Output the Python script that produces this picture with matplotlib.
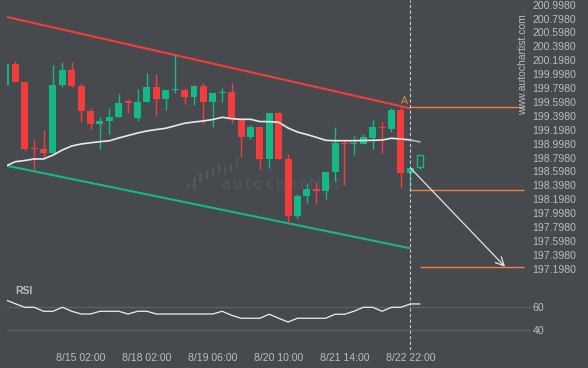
import matplotlib
matplotlib.use("Agg")
import matplotlib.pyplot as plt
from matplotlib.patches import Rectangle

plt.rcParams['font.family'] = ['Liberation Sans', 'DejaVu Sans']

# colores
BG = "#46494e"
UP = "#14b985"
DOWN = "#f43c3c"
ORANGE = "#f0803c"
TXT = "#b9bcc0"
WM = "#53575d"

# velas (indice 0..43)
opens = [199.843, 200.145, 199.886, 198.935, 198.922, 198.869, 199.843, 200.058, 199.828, 199.469,
         199.286, 199.325, 199.382, 199.600, 199.372, 199.598, 199.814, 199.641, 199.781, 199.771,
         199.666, 199.828, 199.602, 199.736, 199.738, 199.349, 199.099, 199.234, 198.774, 199.440,
         198.774, 197.962, 198.250, 198.334, 198.322, 198.591, 199.006, 199.002, 198.998, 199.084,
         199.236, 199.205, 199.483, 198.581]
highs = [200.160, 200.184, 199.886, 199.051, 199.195, 200.130, 200.169, 200.169, 199.867, 199.507,
         199.386, 199.507, 199.713, 199.637, 199.781, 200.011, 200.001, 199.771, 200.274, 199.795,
         199.843, 199.876, 199.732, 199.804, 199.867, 199.349, 199.267, 199.234, 199.440, 199.458,
         198.850, 198.270, 198.428, 198.451, 198.591, 199.234, 199.051, 199.109, 199.138, 199.339,
         199.315, 199.507, 199.530, 198.648]
lows = [199.843, 199.886, 198.893, 198.620, 198.807, 198.869, 199.818, 199.810, 199.306, 199.205,
        198.917, 199.133, 199.382, 199.435, 199.320, 199.598, 199.397, 199.483, 199.723, 199.569,
        199.555, 199.277, 199.243, 199.594, 199.292, 198.811, 199.061, 198.630, 198.653, 198.774,
        197.861, 197.925, 198.140, 198.126, 198.198, 198.461, 198.408, 198.835, 198.998, 198.917,
        198.860, 199.171, 198.356, 198.332]
closes = [200.145, 199.886, 198.922, 198.930, 198.869, 199.843, 200.058, 199.833, 199.473, 199.286,
          199.325, 199.378, 199.584, 199.598, 199.598, 199.814, 199.641, 199.771, 199.783, 199.674,
          199.828, 199.602, 199.732, 199.738, 199.349, 199.099, 199.234, 198.774, 199.440, 198.774,
          197.962, 198.241, 198.346, 198.332, 198.591, 199.008, 199.004, 199.004, 199.090, 199.234,
          199.234, 199.483, 198.581, 198.648]

# vela prevista (hueca)
next_open, next_close, next_low = 198.658, 198.835, 198.630

# media movil y RSI (indice 0..44)
ma = [198.677, 198.739, 198.756, 198.778, 198.778, 198.833, 198.907, 198.965, 198.994, 199.011,
      199.027, 199.040, 199.080, 199.116, 199.152, 199.181, 199.202, 199.220, 199.256, 199.292,
      199.310, 199.325, 199.346, 199.378, 199.358, 199.349, 199.349, 199.317, 199.315, 199.306,
      199.224, 199.166, 199.130, 199.090, 199.047, 199.041, 199.041, 199.041, 199.044, 199.047,
      199.051, 199.076, 199.066, 199.051, 199.025]
rsi = [65.7, 62.5, 59.5, 59.5, 56.1, 56.1, 59.5, 56.1, 53.8, 53.8,
       56.1, 56.1, 56.1, 53.8, 56.1, 56.1, 53.8, 53.8, 53.8, 53.8,
       53.8, 53.8, 53.8, 56.1, 52.7, 50.2, 50.2, 50.2, 53.6, 50.2,
       47.0, 50.2, 50.2, 50.2, 50.2, 53.6, 53.6, 56.1, 59.5, 59.5,
       56.1, 59.5, 59.5, 62.3, 62.3]

# canal
resist_x = [0, 43]
resist_y = [200.825, 199.507]
support_x = [0, 43]
support_y = [198.684, 197.493]

# niveles
level_a = 199.530
level_entry = 198.332
level_target = 197.220
arrow_start = (43.04, 198.645)
arrow_end = (53.07, 197.228)
right_end = 55.09

price_labels = ["200.9980", "200.7980", "200.5980", "200.3980", "200.1980", "199.9980", "199.7980",
                "199.5980", "199.3980", "199.1980", "198.9980", "198.7980", "198.5980", "198.3980",
                "198.1980", "197.9980", "197.7980", "197.5980", "197.3980", "197.1980"]
price_ticks = [float(s) for s in price_labels]
date_idx = [8, 15, 22, 29, 36, 43]
date_labels = ["8/15 02:00", "8/18 02:00", "8/19 06:00", "8/20 10:00", "8/21 14:00", "8/22 22:00"]

W, H = 588, 368
fig = plt.figure(figsize=(W / 100, H / 100), dpi=100, facecolor=BG)


def fpos(x, y):
    return x / W, 1 - y / H


ax = fig.add_axes([7 / W, 1 - 280 / H, 524 / W, 280 / H], facecolor=BG)
rax = fig.add_axes([7 / W, 1 - 350 / H, 524 / W, 70 / H], facecolor=BG)

xlim = (0.117, 55.833)
ax.set_xlim(*xlim)
ax.set_ylim(197.0368, 201.0656)
rax.set_xlim(*xlim)
rax.set_ylim(23.3, 82.6)

for a in (ax, rax):
    for s in a.spines.values():
        s.set_visible(False)

# marca de agua
bars = [(187.3, 183.3, 188.3), (193.3, 177.3, 189), (199.3, 173.3, 181.7), (205.7, 170.7, 179.3),
        (211.7, 168.3, 175.7), (217.7, 164, 173.3), (223.7, 166, 174.3), (229.7, 164, 171.7),
        (235.7, 158.3, 166)]
for bx, top, bot in bars:
    x0, y0 = fpos(bx, bot)
    ax.add_patch(Rectangle((x0, y0), 2.7 / W, (bot - top) / H, transform=fig.transFigure,
                           facecolor=WM, edgecolor="none", zorder=0.5))
em = {'a': .613, 'u': .634, 't': .392, 'o': .612, 'c': .55, 'h': .634, 'r': .411, 'i': .278, 's': .521}
cx = 220.7
for ch in "autochartist":
    x0, y0 = fpos(cx, 189.3)
    ax.text(x0, y0, ch, transform=fig.transFigure, fontsize=10.5, color=WM,
            family="DejaVu Sans", ha="left", va="baseline", zorder=0.5)
    cx += em[ch] * 14.6 + 2.8

# canal
ax.plot(resist_x, resist_y, color=DOWN, lw=1.5, zorder=2, solid_capstyle="butt")
ax.plot(support_x, support_y, color=UP, lw=1.5, zorder=2, solid_capstyle="butt")

# velas
for i, (o, h, l, c) in enumerate(zip(opens, highs, lows, closes)):
    col = UP if c >= o else DOWN
    ax.vlines(i, l, h, color=col, lw=1, zorder=3)
    lo, hi = min(o, c), max(o, c)
    if hi - lo < 0.02:
        mid = (o + c) / 2
        lo, hi = mid - 0.01, mid + 0.01
    ax.bar(i, hi - lo, bottom=lo, width=0.74, color=col, edgecolor="none", zorder=4)

n = len(opens)
ax.vlines(n, next_low, next_open, color=UP, lw=1, zorder=3)
ax.bar(n, next_close - next_open, bottom=next_open, width=0.66, facecolor="none",
       edgecolor=UP, lw=1, zorder=4)

# media movil
ax.plot(range(n), ma[:n], color="#e9e9e9", lw=1.2, zorder=5)
ax.plot([n - 1, n], ma[n - 1:], color="#b8b8b8", lw=1.2, zorder=5)

# niveles y flecha
ax.hlines(level_a, 43, right_end, color=ORANGE, lw=1.0, zorder=3)
ax.hlines(level_entry, 43, right_end, color=ORANGE, lw=1.0, zorder=3)
ax.hlines(level_target, n, right_end, color=ORANGE, lw=1.0, zorder=3)
ax.text(42.36, 199.617, "A", color="#e08a4c", fontsize=7.5, ha="center", va="center", zorder=6)
ax.annotate("", xy=arrow_end, xytext=arrow_start,
            arrowprops=dict(arrowstyle="->,head_length=0.6,head_width=0.3", color="#e4e4e4",
                            lw=0.9, shrinkA=0, shrinkB=0), zorder=6)

ax.axvline(43, color="#c8c8c8", ls=(0, (3, 2)), lw=0.8, zorder=6)
rax.axvline(43, color="#c8c8c8", ls=(0, (3, 2)), lw=0.8, zorder=6)

# ejes de precio
ax.set_xticks([])
ax.yaxis.tick_right()
ax.set_yticks(price_ticks)
ax.set_yticklabels(price_labels)
ax.tick_params(axis="y", length=0, pad=1, labelsize=7.6, labelcolor=TXT)

x0, y0 = fpos(523.3, 65)
fig.text(x0, y0, "www.autochartist.com", rotation=90, fontsize=7.5, color=TXT,
         ha="center", va="center")

# RSI
rax.axhline(60, color="#5b5f65", lw=1, zorder=1)
rax.axhline(40, color="#5b5f65", lw=1, zorder=1)
rax.plot(range(len(rsi)), rsi, color="#efefef", lw=0.9, zorder=3)
rax.yaxis.tick_right()
rax.set_yticks([40, 60])
rax.set_yticklabels(["40", "60"])
rax.tick_params(axis="y", length=0, pad=1, labelsize=7.6, labelcolor=TXT)
rax.set_xticks(date_idx)
rax.set_xticklabels(date_labels)
rax.tick_params(axis="x", length=0, pad=2.5, labelsize=7.6, labelcolor=TXT)
x0, y0 = fpos(15, 291.3)
fig.text(x0, y0, "RSI", fontsize=7.5, fontweight="bold", color=TXT, ha="left", va="center")

fig.savefig("out.png", dpi=100, facecolor=BG)
